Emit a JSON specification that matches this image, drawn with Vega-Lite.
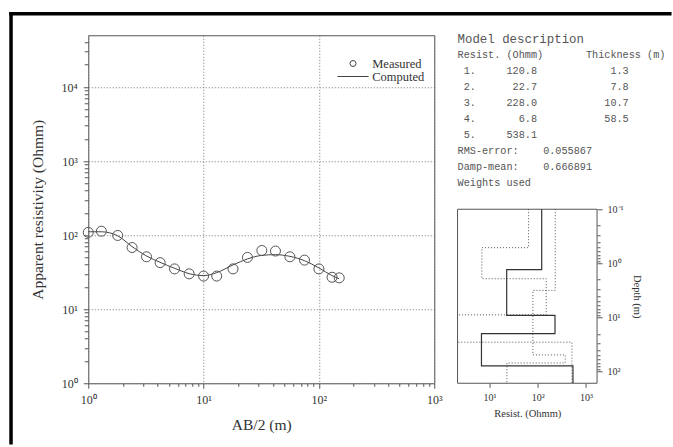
{
  "$schema": "https://vega.github.io/schema/vega-lite/v6.json",
  "padding": {"left": 7.25, "top": 10.25, "right": 0, "bottom": 0},
  "background": "white",
  "spacing": 23.3,
  "bounds": "flush",
  "config": {
    "font": "Liberation Serif",
    "view": {"stroke": "#555", "strokeWidth": 1},
    "axis": {
      "domain": false,
      "tickColor": "#555",
      "tickWidth": 1,
      "labelColor": "#333",
      "titleColor": "#333",
      "labelFont": "Liberation Serif",
      "titleFont": "Liberation Serif",
      "titleFontWeight": "normal",
      "gridColor": "#777",
      "gridDash": [1, 2],
      "gridWidth": 1,
      "labelFlush": false,
      "labelOverlap": false
    }
  },
  "datasets": {
    "measured": [
      {"ab2": 1, "rho": 109, "series": "Measured"},
      {"ab2": 1.3, "rho": 113, "series": "Measured"},
      {"ab2": 1.8, "rho": 99, "series": "Measured"},
      {"ab2": 2.4, "rho": 68, "series": "Measured"},
      {"ab2": 3.2, "rho": 51, "series": "Measured"},
      {"ab2": 4.2, "rho": 42.5, "series": "Measured"},
      {"ab2": 5.6, "rho": 35, "series": "Measured"},
      {"ab2": 7.5, "rho": 30, "series": "Measured"},
      {"ab2": 10, "rho": 28, "series": "Measured"},
      {"ab2": 13, "rho": 28, "series": "Measured"},
      {"ab2": 18, "rho": 35, "series": "Measured"},
      {"ab2": 24, "rho": 50, "series": "Measured"},
      {"ab2": 32, "rho": 62, "series": "Measured"},
      {"ab2": 42, "rho": 61, "series": "Measured"},
      {"ab2": 56, "rho": 51, "series": "Measured"},
      {"ab2": 75, "rho": 46, "series": "Measured"},
      {"ab2": 100, "rho": 35, "series": "Measured"},
      {"ab2": 130, "rho": 27, "series": "Measured"},
      {"ab2": 150, "rho": 26.5, "series": "Measured"}
    ],
    "computed": [
      {"ab2": 1, "rho": 111},
      {"ab2": 1.3, "rho": 111},
      {"ab2": 1.8, "rho": 98},
      {"ab2": 2.4, "rho": 70},
      {"ab2": 3.2, "rho": 52.3},
      {"ab2": 4.2, "rho": 42.9},
      {"ab2": 5.6, "rho": 35.7},
      {"ab2": 7.5, "rho": 30.2},
      {"ab2": 10, "rho": 28.4},
      {"ab2": 13, "rho": 31.2},
      {"ab2": 18, "rho": 39.6},
      {"ab2": 24, "rho": 47.7},
      {"ab2": 32, "rho": 53.3},
      {"ab2": 42, "rho": 54.5},
      {"ab2": 56, "rho": 51.7},
      {"ab2": 75, "rho": 45.2},
      {"ab2": 100, "rho": 36.1},
      {"ab2": 130, "rho": 28.4},
      {"ab2": 150, "rho": 25.7}
    ],
    "model": [
      {"seq": 1, "res": 120.8, "depth": 0.1},
      {"seq": 2, "res": 120.8, "depth": 1.3},
      {"seq": 3, "res": 22.7, "depth": 1.3},
      {"seq": 4, "res": 22.7, "depth": 9.1},
      {"seq": 5, "res": 228.0, "depth": 9.1},
      {"seq": 6, "res": 228.0, "depth": 19.8},
      {"seq": 7, "res": 6.8, "depth": 19.8},
      {"seq": 8, "res": 6.8, "depth": 78.3},
      {"seq": 9, "res": 538.1, "depth": 78.3},
      {"seq": 10, "res": 538.1, "depth": 164}
    ],
    "bounds": [
      {"bound": "A", "seq": 1, "res": 64.6, "depth": 0.1},
      {"bound": "A", "seq": 2, "res": 64.6, "depth": 0.513},
      {"bound": "A", "seq": 3, "res": 6.93, "depth": 0.513},
      {"bound": "A", "seq": 4, "res": 6.93, "depth": 1.92},
      {"bound": "A", "seq": 5, "res": 150, "depth": 1.92},
      {"bound": "A", "seq": 6, "res": 150, "depth": 8.93},
      {"bound": "A", "seq": 7, "res": 1.0, "depth": 8.93},
      {"bound": "A", "seq": 8, "res": 1.0, "depth": 28.6},
      {"bound": "A", "seq": 9, "res": 512, "depth": 28.6},
      {"bound": "A", "seq": 10, "res": 512, "depth": 164},
      {"bound": "B", "seq": 1, "res": 231, "depth": 0.1},
      {"bound": "B", "seq": 2, "res": 231, "depth": 3.16},
      {"bound": "B", "seq": 3, "res": 79.4, "depth": 3.16},
      {"bound": "B", "seq": 4, "res": 79.4, "depth": 49.1},
      {"bound": "B", "seq": 5, "res": 372, "depth": 49.1},
      {"bound": "B", "seq": 6, "res": 372, "depth": 69.2},
      {"bound": "B", "seq": 7, "res": 22.9, "depth": 69.2},
      {"bound": "B", "seq": 8, "res": 22.9, "depth": 164}
    ],
    "report": [
      {"line": 0, "kind": "title", "text": "Model\u00a0description"},
      {"line": 1, "kind": "body", "text": "Resist.\u00a0(Ohmm)\u00a0\u00a0\u00a0\u00a0\u00a0\u00a0\u00a0Thickness\u00a0(m)"},
      {"line": 2, "kind": "body", "text": "\u200b\u00a01.\u00a0\u00a0\u00a0\u00a0\u00a0120.8\u00a0\u00a0\u00a0\u00a0\u00a0\u00a0\u00a0\u00a0\u00a0\u00a0\u00a0\u00a01.3"},
      {"line": 3, "kind": "body", "text": "\u200b\u00a02.\u00a0\u00a0\u00a0\u00a0\u00a0\u00a022.7\u00a0\u00a0\u00a0\u00a0\u00a0\u00a0\u00a0\u00a0\u00a0\u00a0\u00a0\u00a07.8"},
      {"line": 4, "kind": "body", "text": "\u200b\u00a03.\u00a0\u00a0\u00a0\u00a0\u00a0228.0\u00a0\u00a0\u00a0\u00a0\u00a0\u00a0\u00a0\u00a0\u00a0\u00a0\u00a010.7"},
      {"line": 5, "kind": "body", "text": "\u200b\u00a04.\u00a0\u00a0\u00a0\u00a0\u00a0\u00a0\u00a06.8\u00a0\u00a0\u00a0\u00a0\u00a0\u00a0\u00a0\u00a0\u00a0\u00a0\u00a058.5"},
      {"line": 6, "kind": "body", "text": "\u200b\u00a05.\u00a0\u00a0\u00a0\u00a0\u00a0538.1"},
      {"line": 7, "kind": "body", "text": "RMS-error:\u00a0\u00a0\u00a0\u00a00.055867"},
      {"line": 8, "kind": "body", "text": "Damp-mean:\u00a0\u00a0\u00a0\u00a00.666891"},
      {"line": 9, "kind": "body", "text": "Weights\u00a0used"}
    ]
  },
  "hconcat": [
    {
      "width": 346,
      "height": 348,
      "layer": [
        {
          "data": {"values": [{}]},
          "mark": {"type": "rule", "color": "black", "strokeWidth": 3.5, "strokeCap": "square"},
          "encoding": {
            "x": {"datum": 0.214, "type": "quantitative", "scale": {"type": "log", "domain": [1, 1000], "nice": false}, "axis": null},
            "x2": {"datum": 110200},
            "y": {"datum": 97500, "type": "quantitative", "scale": {"type": "log", "domain": [1, 50000], "nice": false}, "axis": null}
          }
        },
        {
          "data": {"values": [{}]},
          "mark": {"type": "rule", "color": "black", "strokeWidth": 3.5, "strokeCap": "square"},
          "encoding": {
            "x": {"datum": 0.214, "type": "quantitative", "scale": {"type": "log", "domain": [1, 1000], "nice": false}, "axis": null},
            "y": {"datum": 97500, "type": "quantitative", "scale": {"type": "log", "domain": [1, 50000], "nice": false}, "axis": null},
            "y2": {"datum": 0.157}
          }
        },
        {
          "data": {"name": "computed"},
          "mark": {"type": "line", "color": "#444", "strokeWidth": 1, "interpolate": "monotone"},
          "encoding": {
            "x": {
              "field": "ab2", "type": "quantitative",
              "scale": {"type": "log", "domain": [1, 1000], "nice": false},
              "axis": {
                "orient": "bottom", "values": [1, 10, 100, 1000], "grid": true, "tickSize": 5,
                "labelExpr": "'10' + ['⁰','¹','²','³','⁴'][round(log(datum.value)/LN10)]",
                "labelFontSize": 12, "labelPadding": 6,
                "title": "AB/2 (m)", "titleFontSize": 15.5, "titlePadding": 12
              }
            },
            "y": {
              "field": "rho", "type": "quantitative",
              "scale": {"type": "log", "domain": [1, 50000], "nice": false},
              "axis": {
                "orient": "left", "values": [1, 10, 100, 1000, 10000], "grid": true, "tickSize": 5,
                "labelExpr": "'10' + ['⁰','¹','²','³','⁴'][round(log(datum.value)/LN10)]",
                "labelFontSize": 12, "labelPadding": 6,
                "title": "Apparent resistivity (Ohmm)", "titleFontSize": 15.5, "titlePadding": 16
              }
            }
          }
        },
        {
          "data": {"name": "measured"},
          "mark": {"type": "point", "filled": false, "size": 100, "color": "#555", "strokeWidth": 1, "opacity": 1},
          "encoding": {
            "x": {
              "field": "ab2", "type": "quantitative",
              "scale": {"type": "log", "domain": [1, 1000], "nice": false},
              "axis": {"orient": "bottom", "values": [2,3,4,5,6,7,8,9,20,30,40,50,60,70,80,90,200,300,400,500,600,700,800,900], "tickSize": 3, "labels": false, "grid": false, "title": null}
            },
            "y": {
              "field": "rho", "type": "quantitative",
              "scale": {"type": "log", "domain": [1, 50000], "nice": false},
              "axis": {"orient": "left", "values": [2,3,4,5,6,7,8,9,20,30,40,50,60,70,80,90,200,300,400,500,600,700,800,900,2000,3000,4000,5000,6000,7000,8000,9000,20000,30000,40000], "tickSize": 4, "labels": false, "grid": false, "title": null}
            },
            "shape": {
              "field": "series", "type": "nominal",
              "scale": {"domain": ["Measured", "Computed"], "range": ["circle", "M-5.2,0H5.2"]},
              "legend": {
                "orient": "none", "legendX": 258.5, "legendY": 22, "title": null, "padding": 0,
                "symbolSize": 36, "symbolStrokeWidth": 1, "symbolStrokeColor": "#444", "symbolFillColor": "transparent",
                "labelFont": "Liberation Serif", "labelFontSize": 12.5, "labelColor": "#333", "labelOffset": 13, "rowPadding": -2.5
              }
            }
          }
        }
      ],
      "resolve": {"axis": {"x": "independent", "y": "independent"}}
    },
    {
      "width": 139.5,
      "height": 348,
      "view": {"stroke": null},
      "layer": [
        {
          "layer": [
            {
              "data": {"values": [{}]},
              "mark": {"type": "rect", "fill": null, "stroke": "#555", "strokeWidth": 1},
              "encoding": {
                "x": {
                  "datum": 2.17, "type": "quantitative",
                  "scale": {"type": "log", "domain": [2.17, 1700], "nice": false},
                  "axis": {
                    "orient": "bottom", "values": [10, 100, 1000], "tickSize": 4, "grid": false,
                    "labelExpr": "'10' + ['⁰','¹','²','³','⁴'][round(log(datum.value)/LN10)]",
                    "labelFontSize": 10, "labelPadding": 5,
                    "title": "Resist. (Ohmm)", "titleFontSize": 10.5, "titlePadding": 6
                  }
                },
                "x2": {"datum": 1700},
                "y": {"datum": 0.1, "type": "quantitative", "scale": {"type": "log", "domain": [0.000061, 164], "nice": false, "reverse": true}, "axis": null},
                "y2": {"datum": 164}
              }
            },
            {
              "data": {"name": "bounds"},
              "mark": {"type": "line", "color": "#555", "strokeWidth": 1, "strokeDash": [1, 2], "clip": true},
              "encoding": {
                "x": {"field": "res", "type": "quantitative", "scale": {"type": "log", "domain": [2.17, 1700], "nice": false}, "axis": null},
                "y": {
                  "field": "depth", "type": "quantitative",
                  "scale": {"type": "log", "domain": [0.000061, 164], "nice": false, "reverse": true},
                  "axis": {"orient": "right", "values": [0.2,0.3,0.4,0.5,0.6,0.7,0.8,0.9,2,3,4,5,6,7,8,9,20,30,40,50,60,70,80,90], "tickSize": 3, "labels": false, "grid": false, "title": null}
                },
                "detail": {"field": "bound", "type": "nominal"},
                "order": {"field": "seq", "type": "quantitative"}
              }
            },
            {
              "data": {"name": "model"},
              "mark": {"type": "line", "color": "#333", "strokeWidth": 1.2, "clip": true},
              "encoding": {
                "x": {"field": "res", "type": "quantitative", "scale": {"type": "log", "domain": [2.17, 1700], "nice": false}, "axis": null},
                "y": {
                  "field": "depth", "type": "quantitative",
                  "scale": {"type": "log", "domain": [0.000061, 164], "nice": false, "reverse": true},
                  "axis": {
                    "orient": "right", "values": [0.1, 1, 10, 100], "tickSize": 5, "grid": false,
                    "labelExpr": "['10⁻¹','10⁰','10¹','10²'][round(log(datum.value)/LN10)+1]",
                    "labelFontSize": 10, "labelPadding": 5,
                    "title": "Depth (m)", "titleFontSize": 10.5, "titleAngle": 90, "titleY": 261, "titlePadding": 8
                  }
                },
                "order": {"field": "seq", "type": "quantitative"}
              }
            }
          ],
          "resolve": {"axis": {"x": "independent", "y": "independent"}}
        },
        {
          "data": {"name": "report"},
          "mark": {"type": "text", "font": "Liberation Mono", "align": "left", "baseline": "middle", "color": "#555"},
          "encoding": {
            "x": {"datum": 0, "type": "quantitative", "scale": {"domain": [0, 1], "nice": false, "zero": false}, "axis": null},
            "y": {"field": "line", "type": "quantitative", "scale": {"domain": [-0.206, 21.544], "reverse": true, "nice": false, "zero": false}, "axis": null},
            "text": {"field": "text", "type": "nominal"},
            "size": {"field": "kind", "type": "ordinal", "scale": {"domain": ["title", "body"], "range": [12.4, 10.2]}, "legend": null}
          }
        }
      ],
      "resolve": {"scale": {"x": "independent", "y": "independent"}}
    }
  ]
}
